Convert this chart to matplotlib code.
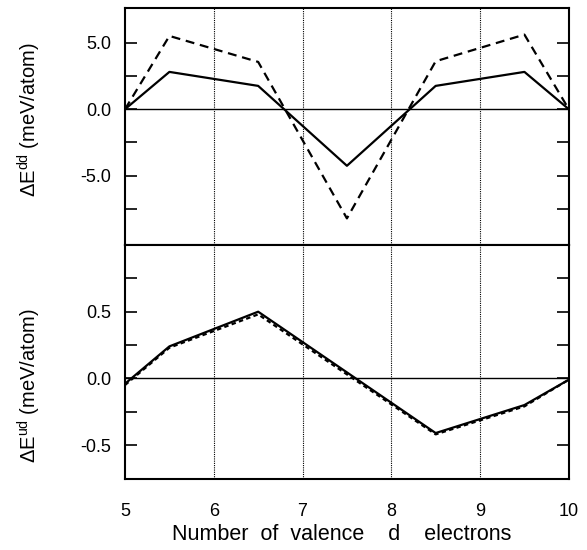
import matplotlib.pyplot as plt
import numpy as np

plt.rcParams['font.family'] = ['Liberation Sans', 'DejaVu Sans']
plt.rcParams['mathtext.fontset'] = 'custom'
plt.rcParams['mathtext.rm'] = 'Liberation Sans'
plt.rcParams['mathtext.it'] = 'Liberation Sans'

# data
n_d = [5.0, 5.5, 6.5, 7.5, 8.5, 9.5, 10.0]
dd_solid = [0.0, 2.8, 1.75, -4.25, 1.75, 2.8, 0.0]
dd_dash = [0.0, 5.5, 3.55, -8.2, 3.6, 5.6, 0.0]
ud_solid = [-0.04, 0.24, 0.50, 0.045, -0.41, -0.20, -0.01]
ud_dash = [-0.05, 0.23, 0.48, 0.03, -0.42, -0.21, -0.01]

grid_x = [6, 7, 8, 9]
xticks = [5, 6, 7, 8, 9, 10]

fig = plt.figure(figsize=(5.87, 5.5), dpi=100)
ax1 = fig.add_axes([0.213, 0.5545, 0.756, 0.431])
ax2 = fig.add_axes([0.213, 0.129, 0.756, 0.4255])

def style(ax, major, minor, fmt):
    ax.set_xlim(5, 10)
    ax.set_xticks(xticks)
    ax.set_yticks(major)
    ax.set_yticklabels([fmt % v for v in major])
    ax.set_yticks(minor, minor=True)
    ax.tick_params(axis='y', which='both', direction='in', length=8.5,
                   width=1.2, left=True, right=True, labelsize=13, pad=10)
    ax.tick_params(axis='x', length=0, labelsize=13, pad=17)
    for s in ax.spines.values():
        s.set_linewidth(1.5)
    for gx in grid_x:
        ax.axvline(gx, color='k', lw=0.8, ls=(0, (1, 1)), zorder=1)
    ax.axhline(0, color='k', lw=1.0, zorder=1)

# top panel
ax1.plot(n_d, dd_dash, color='k', lw=1.6, ls=(0, (4, 2.6)), zorder=3)
ax1.plot(n_d, dd_solid, color='k', lw=1.6, zorder=3)
ax1.set_ylim(-10.2, 7.6)
style(ax1, [5.0, 0.0, -5.0], [2.5, -2.5, -7.5], '%.1f')
ax1.tick_params(axis='x', labelbottom=False)
ax1.set_ylabel(r'$\Delta\mathrm{E}^{dd}$ (meV/atom)', fontsize=14.5)
ax1.yaxis.set_label_coords(-0.185, 0.527)

# bottom panel
ax2.plot(n_d, ud_dash, color='k', lw=1.6, ls=(0, (2, 1.5)), zorder=3)
ax2.plot(n_d, ud_solid, color='k', lw=1.6, zorder=3)
ax2.set_ylim(-0.755, 1.0)
style(ax2, [0.5, 0.0, -0.5], [0.75, 0.25, -0.25], '%.1f')
ax2.set_xticklabels([str(v) for v in xticks])
ax2.set_ylabel(r'$\Delta\mathrm{E}^{ud}$ (meV/atom)', fontsize=14.5)
ax2.yaxis.set_label_coords(-0.185, 0.40)
ax2.set_xlabel('Number  of  valence    d    electrons', fontsize=15.5)
ax2.xaxis.set_label_coords(0.488, -0.192)

fig.savefig('out.png', dpi=100)
